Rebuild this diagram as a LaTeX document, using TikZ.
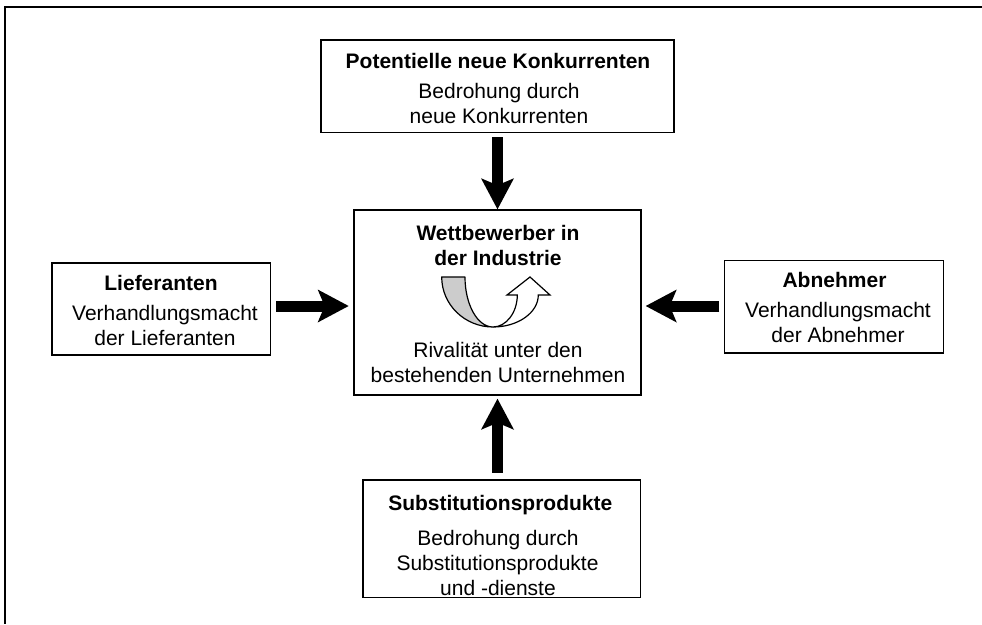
\documentclass[tikz,border=0pt]{standalone}
\usepackage{fontspec}
\setmainfont{Liberation Sans}
\usetikzlibrary{arrows.meta}
\tikzset{
  box/.style={draw=black, line width=1.5pt, rectangle, inner sep=0pt},
  lbl/.style={anchor=base, inner sep=0pt, font=\fontsize{21}{25}\selectfont},
  lblb/.style={anchor=base, inner sep=0pt, font=\fontsize{21}{25}\selectfont\bfseries},
  bigarrow/.style={line width=11pt, -{Stealth[length=31pt,width=33pt,inset=7pt,line width=0pt]}},
  frameline/.style={line width=2.2pt, draw=black},
}
\begin{document}
\begin{tikzpicture}[x=1pt,y=-1pt]
\useasboundingbox (0,0) rectangle (982,624);
% outer frame (only top and left edges visible)
\draw[frameline] (982,7) -- (5,7) -- (5,624);

% boxes
\node[box, minimum width=353pt, minimum height=92.5pt] (top) at (497.5,86.25) {};
\node[box, minimum width=287pt, minimum height=185pt] (center) at (497.5,302.5) {};
\node[box, minimum width=218.5pt, minimum height=92pt] (left) at (161.25,309) {};
\node[box, minimum width=219pt, minimum height=92.4pt] (right) at (834,306.8) {};
\node[box, minimum width=277.6pt, minimum height=117.7pt] (bot) at (501.8,538.85) {};

% texts: top
\node[lblb] (t1) at (498,68) {Potentielle neue Konkurrenten};
\node[lbl] (t2) at (499,98) {Bedrohung durch};
\node[lbl] (t3) at (499,123) {neue Konkurrenten};
% center
\node[lblb] (c1) at (498,240) {Wettbewerber in};
\node[lblb] (c2) at (498,265) {der Industrie};
\node[lbl] (c3) at (498,357) {Rivalität unter den};
\node[lbl] (c4) at (498,382) {bestehenden Unternehmen};
% left
\node[lblb] (l1) at (161,290) {Lieferanten};
\node[lbl] (l2) at (165,320) {Verhandlungsmacht};
\node[lbl] (l3) at (165,345) {der Lieferanten};
% right
\node[lblb] (r1) at (834.5,287.5) {Abnehmer};
\node[lbl] (r2) at (838,317.5) {Verhandlungsmacht};
\node[lbl] (r3) at (838,342.5) {der Abnehmer};
% bottom
\node[lblb] (b1) at (500.3,510.5) {Substitutionsprodukte};
\node[lbl] (b2) at (498,545.5) {Bedrohung durch};
\node[lbl] (b3) at (497.5,570) {Substitutionsprodukte};
\node[lbl] (b4) at (498,595) {und -dienste};

% big arrows
\draw[bigarrow] ([yshift=-4pt]top.south) -- (center.north);
\coordinate (bs) at ([yshift=6.5pt]bot.north -| center.south);
\coordinate (be) at ([yshift=-3pt]center.south);
\draw[bigarrow] (bs) -- (be);
\coordinate (ls) at ([xshift=5pt,yshift=3pt]left.east);
\coordinate (cw) at ([xshift=-4.6pt]center.west);
\draw[bigarrow] (ls) -- (ls -| cw);
\coordinate (rs) at ([xshift=-4.5pt,yshift=0.8pt]right.west);
\coordinate (ce) at ([xshift=4pt]center.east);
\draw[bigarrow] (rs) -- (rs -| ce);

% rivalry U-turn arrow
\draw[line width=1.2pt, fill=black!20, line join=round]
  (441.7,277) -- (465,277) .. controls (465,304.6) and (477.5,327) .. (493,327)
  .. controls (464.7,327) and (441.7,304.6) .. (441.7,277) -- cycle;
\draw[line width=1.2pt, fill=white, line join=miter]
  (493,327) .. controls (517.8,327) and (538.3,312.7) .. (538.3,295)
  -- (550,295) -- (530,277) -- (507,295) -- (517.3,295)
  .. controls (517.3,312.7) and (506,327) .. (493,327) -- cycle;
\end{tikzpicture}
\end{document}
